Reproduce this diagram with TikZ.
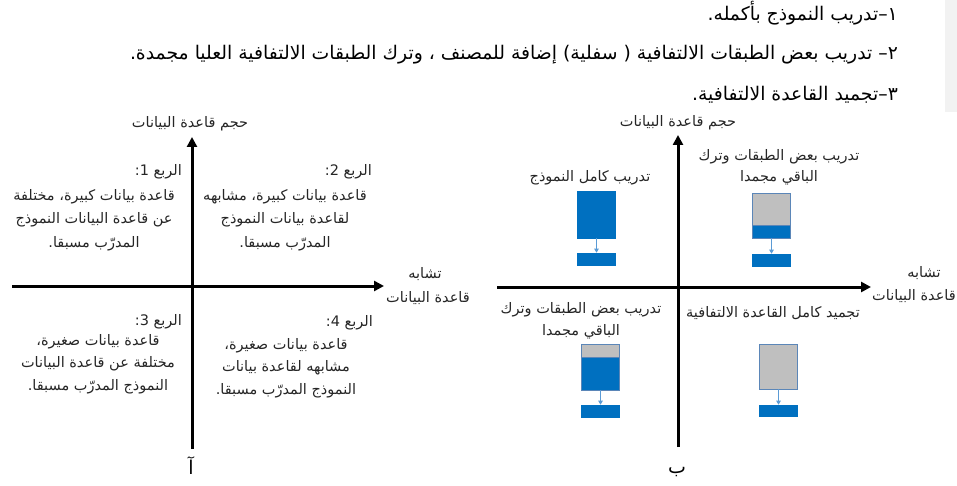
\documentclass[tikz,border=0pt]{standalone}
\usepackage{fontspec}
\TeXXeTstate=1
\newfontfamily\arabicfont[Script=Arabic]{DejaVu Sans}
\usetikzlibrary{arrows.meta}
\definecolor{boxblue}{HTML}{0070C0}
\definecolor{boxgray}{HTML}{BFBFBF}
\definecolor{edgeblue}{HTML}{5B86B8}
\definecolor{arrowblue}{HTML}{5B9BD5}
\definecolor{panelgray}{HTML}{F2F2F2}
\newcommand{\ar}[1]{\beginR #1\endR}
\begin{document}
\begin{tikzpicture}[x=1pt,y=-1pt,
  axis/.style={line width=3pt, -{Triangle[length=10pt,width=10pt]}},
  lbl/.style={font=\arabicfont\fontsize{14.5}{23.5}\selectfont, text=black!85, inner sep=0pt, align=center},
  qtitle/.style={font=\arabicfont\fontsize{14.5}{23.5}\selectfont, text=black!85, inner sep=0pt, anchor=east},
  bigletter/.style={font=\arabicfont\fontsize{19}{20}\selectfont, inner sep=0pt},
  toptext/.style={font=\arabicfont\fontsize{18.8}{22}\selectfont, inner sep=0pt, anchor=base east},
  bluebox/.style={draw=boxblue, fill=boxblue, line width=0.6pt, minimum width=38pt, inner sep=0pt},
  graybox/.style={draw=edgeblue, fill=boxgray, line width=0.6pt, minimum width=38pt, inner sep=0pt},
  flow/.style={draw=arrowblue, line width=0.8pt, -{Triangle[length=4pt,width=4.5pt]}}
]
\useasboundingbox (0,0) rectangle (957,486);
\fill[panelgray] (945,0) rectangle (957,112);

% top text
\node[toptext] (t1) at (898,21) {\ar{١–تدريب النموذج بأكمله.}};
\node[toptext] (t2) at (898,60) {\ar{٢– تدريب بعض الطبقات الالتفافية ( سفلية) إضافة للمصنف ، وترك الطبقات الالتفافية العليا مجمدة.}};
\node[toptext] (t3) at (898,101) {\ar{٣–تجميد القاعدة الالتفافية.}};

% ---------- left diagram ----------
\coordinate (la-b) at (192,449);
\coordinate (la-t) at (192,137);
\coordinate (lh-l) at (12,286);
\coordinate (lh-r) at (384,286);
\draw[axis] (lh-l) -- (lh-r);
\draw[axis] (la-b) -- (la-t);

\node[lbl] (lyl) at (190,124) {\ar{حجم قاعدة البيانات}};
\node[lbl] (lxl1) at (425,274) {\ar{تشابه}};
\node[lbl] (lxl2) at (428,298) {\ar{قاعدة البيانات}};

\node[qtitle] (q1t) at (182,172) {\ar{الربع 1:}};
\node[lbl] (q1b) at (94,220) {\ar{قاعدة بيانات كبيرة، مختلفة}\\\ar{عن قاعدة البيانات النموذج}\\\ar{المدرّب مسبقا.}};
\node[qtitle] (q2t) at (372,172) {\ar{الربع 2:}};
\node[lbl] (q2b) at (285,220) {\ar{قاعدة بيانات كبيرة، مشابهه}\\\ar{لقاعدة بيانات النموذج}\\\ar{المدرّب مسبقا.}};
\node[qtitle] (q3t) at (182,322) {\ar{الربع 3:}};
\node[lbl, font=\arabicfont\fontsize{14.5}{22.5}\selectfont] (q3b) at (98,364) {\ar{قاعدة بيانات صغيرة،}\\\ar{مختلفة عن قاعدة البيانات}\\\ar{النموذج المدرّب مسبقا.}};
\node[qtitle] (q4t) at (373,323) {\ar{الربع 4:}};
\node[lbl, font=\arabicfont\fontsize{14.5}{22.5}\selectfont] (q4b) at (286,368) {\ar{قاعدة بيانات صغيرة،}\\\ar{مشابهه لقاعدة بيانات}\\\ar{النموذج المدرّب مسبقا.}};
\node[bigletter] (lname) at (191,466) {\ar{آ}};

% ---------- right diagram ----------
\coordinate (ra-b) at (678,447);
\coordinate (ra-t) at (678,135);
\coordinate (rh-l) at (497,287);
\coordinate (rh-r) at (871,287);
\draw[axis] (rh-l) -- (rh-r);
\draw[axis] (ra-b) -- (ra-t);

\node[lbl] (ryl) at (678,123) {\ar{حجم قاعدة البيانات}};
\node[lbl] (rxl1) at (924,273) {\ar{تشابه}};
\node[lbl] (rxl2) at (914,296) {\ar{قاعدة البيانات}};

\node[lbl] (r1l) at (590,178) {\ar{تدريب كامل النموذج}};
\node[lbl, font=\arabicfont\fontsize{14.5}{21}\selectfont] (r2l) at (779,167.5) {\ar{تدريب بعض الطبقات وترك}\\\ar{الباقي مجمدا}};
\node[lbl, font=\arabicfont\fontsize{14.5}{22}\selectfont] (r3l) at (581,321) {\ar{تدريب بعض الطبقات وترك}\\\ar{الباقي مجمدا}};
\node[lbl] (r4l) at (773,313) {\ar{تجميد كامل القاعدة الالتفافية}};
\node[bigletter] (rname) at (677,472) {\ar{ب}};

% Q1 box: full training
\node[bluebox, minimum height=47pt] (b1) at (596.5,214.5) {};
\node[bluebox, minimum height=12pt] (s1) at (596.5,259) {};
\draw[flow] (b1.south) -- (s1.north);

% Q2 box
\node[graybox, minimum height=45pt] (b2) at (771.5,215.5) {};
\node[bluebox, draw=edgeblue, minimum height=13pt] (b2b) at (771.5,231.5) {};
\node[bluebox, minimum height=12pt] (s2) at (771.5,260) {};
\draw[flow] (b2b.south) -- (s2.north);

% Q3 box
\node[graybox, minimum height=46pt] (b3) at (600.5,367) {};
\node[bluebox, draw=edgeblue, minimum height=33pt] (b3b) at (600.5,373.5) {};
\node[bluebox, minimum height=12pt] (s3) at (600.5,411) {};
\draw[flow] (b3b.south) -- (s3.north);

% Q4 box
\node[graybox, minimum height=45pt] (b4) at (778.5,366.5) {};
\node[bluebox, minimum height=11pt] (s4) at (778.5,410.5) {};
\draw[flow] (b4.south) -- (s4.north);
\end{tikzpicture}
\end{document}
